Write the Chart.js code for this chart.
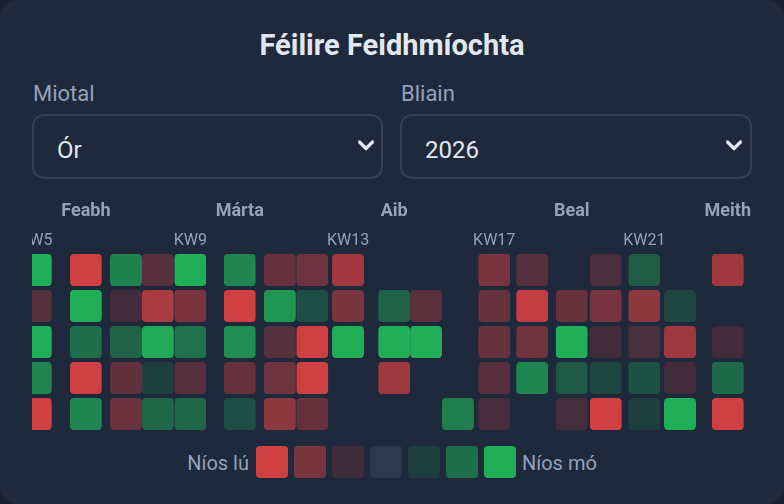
<!DOCTYPE html>
<html>
<head>
<meta charset="utf-8">
<script src="https://cdn.jsdelivr.net/npm/chart.js@4.4.1/dist/chart.umd.min.js"></script>
<style>
  html, body { margin:0; padding:0; width:784px; height:504px; overflow:hidden; background:#182131; font-family: Roboto, "Noto Sans", sans-serif; }
  .card { position:absolute; left:0; top:0; width:784px; height:504px; background:#1e293b; border-radius:16px; }
  h1 { position:absolute; left:0; top:31px; width:784px; margin:0; text-align:center; font-size:29px; line-height:28px; font-weight:700; color:#e2e8f0; }
  .lbl { position:absolute; top:83px; font-size:22px; line-height:22px; color:#94a3b8; }
  select { position:absolute; top:114px; height:65px; box-sizing:border-box; border:2px solid #334155; border-radius:12px; background:#1e293b; color:#e2e8f0; font-family:inherit; font-size:24px; padding:6px 0 0 23px; -webkit-appearance:none; appearance:none; outline:none; }
  .chev { position:absolute; top:139px; width:18px; height:14px; pointer-events:none; }
  .wrap { position:absolute; left:32px; top:190px; width:720px; height:242px; }
  .legend { position:absolute; left:0; top:446px; width:784px; height:32px; display:flex; justify-content:center; align-items:center; font-size:20px; color:#94a3b8; }
  .legend span { position:relative; top:1px; }
  .sw { width:32px; height:32px; border-radius:4px; margin-right:6px; }
  .legend .t1 { margin-right:7px; }
</style>
</head>
<body>
<div class="card"></div>
<h1>Féilire Feidhmíochta</h1>
<div class="lbl" style="left:33px">Miotal</div>
<div class="lbl" style="left:401px">Bliain</div>
<select style="left:32px;width:351px"><option>Ór</option><option>Airgead</option></select>
<select style="left:400px;width:352px"><option>2026</option><option>2025</option></select>
<svg class="chev" style="left:357px" viewBox="0 0 18 14"><polyline points="2.5,3 9,9.5 15.5,3" fill="none" stroke="#e2e8f0" stroke-width="3.2" stroke-linecap="round" stroke-linejoin="round"/></svg>
<svg class="chev" style="left:725px" viewBox="0 0 18 14"><polyline points="2.5,3 9,9.5 15.5,3" fill="none" stroke="#e2e8f0" stroke-width="3.2" stroke-linecap="round" stroke-linejoin="round"/></svg>
<div class="wrap"><canvas id="c" width="720" height="242"></canvas></div>
<div class="legend" id="legend"></div>
<script>
// ---- data ----
const weeks = [5,6,7,8,9,10,11,12,13,14,15,16,17,18,19,20,21,22,23];
// position of each week column on the day-of-year axis
const weekDay = [25.7,34.8,42.1,47.9,53.8,62.8,70.1,76.0,82.5,90.9,96.7,102.5,109.1,116.0,123.2,129.4,136.4,142.9,151.6];
const kwTickWeeks = [5,9,13,17,21];
const monthNames = ['Feabh','Márta','Aib','Beal','Meith'];
const monthStartWeeks = [6,10,14,19,23];
const dayNames = ['Luan','Máirt','Céadaoin','Déardaoin','Aoine'];
// daily change (%) per weekday row, one value per week column
const luan      = [2.2,-2.4,1.28,-0.48,2.1,1.31,-0.64,-0.75,-1.44,null,null,null,-0.91,-0.45,null,-0.32,0.61,null,-1.44];
const mairt     = [-0.43,2.3,-0.21,-1.52,-0.93,-2.5,1.6,0.4,-0.91,0.75,-0.53,null,-0.64,-1.84,-0.64,-0.88,-1.15,0.24,null];
const ceadaoin  = [2.1,0.93,0.72,1.97,0.99,1.47,-0.43,-2.2,2.2,2.0,2.4,null,-0.67,-0.77,2.1,-0.19,-0.32,-1.39,-0.21];
const deardaoin = [1.31,-2.3,-0.59,0.13,-0.45,-0.64,-0.75,-2.6,null,-1.39,null,null,-0.48,1.33,0.56,0.24,0.45,-0.21,0.85];
const aoine     = [-2.3,1.33,-0.72,0.8,0.8,0.4,-1.15,-0.64,null,null,null,1.17,-0.27,null,-0.24,-2.1,0.11,2.2,-2.4];
const legendLow = 'Níos lú', legendHigh = 'Níos mó';
const legendSteps = [-2.0, -0.91, -0.16, 0, 0.13, 0.93, 2.0];

// ---- colours ----
const RED = [239,68,68], GREEN = [34,197,94];
function cellColor(v) {
  if (v === 0) return 'rgb(46,57,76)';
  const a = Math.min(0.85, 0.1 + 0.375 * Math.abs(v));
  const b = v < 0 ? RED : GREEN;
  return `rgba(${b[0]},${b[1]},${b[2]},${a})`;
}

// legend
const lg = document.getElementById('legend');
const t1 = document.createElement('span'); t1.className = 't1'; t1.textContent = legendLow; lg.appendChild(t1);
legendSteps.forEach(v => { const d = document.createElement('div'); d.className = 'sw'; d.style.background = cellColor(v); lg.appendChild(d); });
const t2 = document.createElement('span'); t2.textContent = legendHigh; lg.appendChild(t2);

// ---- chart ----
const rows = [luan, mairt, ceadaoin, deardaoin, aoine];
const datasets = rows.map((vals, r) => {
  const pts = [];
  vals.forEach((v, i) => { if (v !== null) pts.push({ x: weekDay[i], y: [r, r + 1], v }); });
  return {
    label: dayNames[r],
    data: pts,
    backgroundColor: pts.map(p => cellColor(p.v)),
    borderColor: '#1e293b',
    borderWidth: { top: 2, bottom: 2, left: 0, right: 0 },
    borderSkipped: false,
    borderRadius: 6,
    inflateAmount: 0,
    barThickness: 32,
    grouped: false
  };
});

Chart.defaults.font.family = 'Roboto';
const dayOf = w => weekDay[weeks.indexOf(w)];

new Chart(document.getElementById('c'), {
  type: 'bar',
  data: { datasets },
  options: {
    responsive: false,
    animation: false,
    events: [],
    devicePixelRatio: 1,
    layout: { padding: { top: 9, left: 0, right: 0, bottom: 0 } },
    plugins: { legend: { display: false }, tooltip: { enabled: false }, title: { display: false } },
    scales: {
      x: {
        type: 'linear', position: 'top', min: 25, max: 156, weight: 1, offset: false,
        grid: { display: false, drawTicks: false, offset: false }, border: { display: false },
        afterBuildTicks: s => { s.ticks = kwTickWeeks.map(w => ({ value: dayOf(w) })); },
        afterFit: s => { s.height = 23; s.paddingLeft = 0; s.paddingRight = 0; },
        ticks: { autoSkip: false, maxRotation: 0, padding: 1, color: '#94a3b8', font: { size: 16 },
                 callback: (v, i) => 'KW' + kwTickWeeks[i] }
      },
      x2: {
        type: 'linear', position: 'top', min: 25, max: 156, weight: 2, offset: false,
        grid: { display: false, drawTicks: false, offset: false }, border: { display: false },
        afterBuildTicks: s => { s.ticks = monthStartWeeks.map(w => ({ value: dayOf(w) })); },
        afterFit: s => { s.height = 30; s.paddingLeft = 0; s.paddingRight = 0; },
        ticks: { autoSkip: false, maxRotation: 0, padding: 7, color: '#94a3b8', font: { size: 18, weight: 'bold' },
                 callback: (v, i) => monthNames[i] }
      },
      y: { type: 'linear', min: 0, max: 5, reverse: true, display: false }
    }
  }
});
</script>
</body>
</html>
